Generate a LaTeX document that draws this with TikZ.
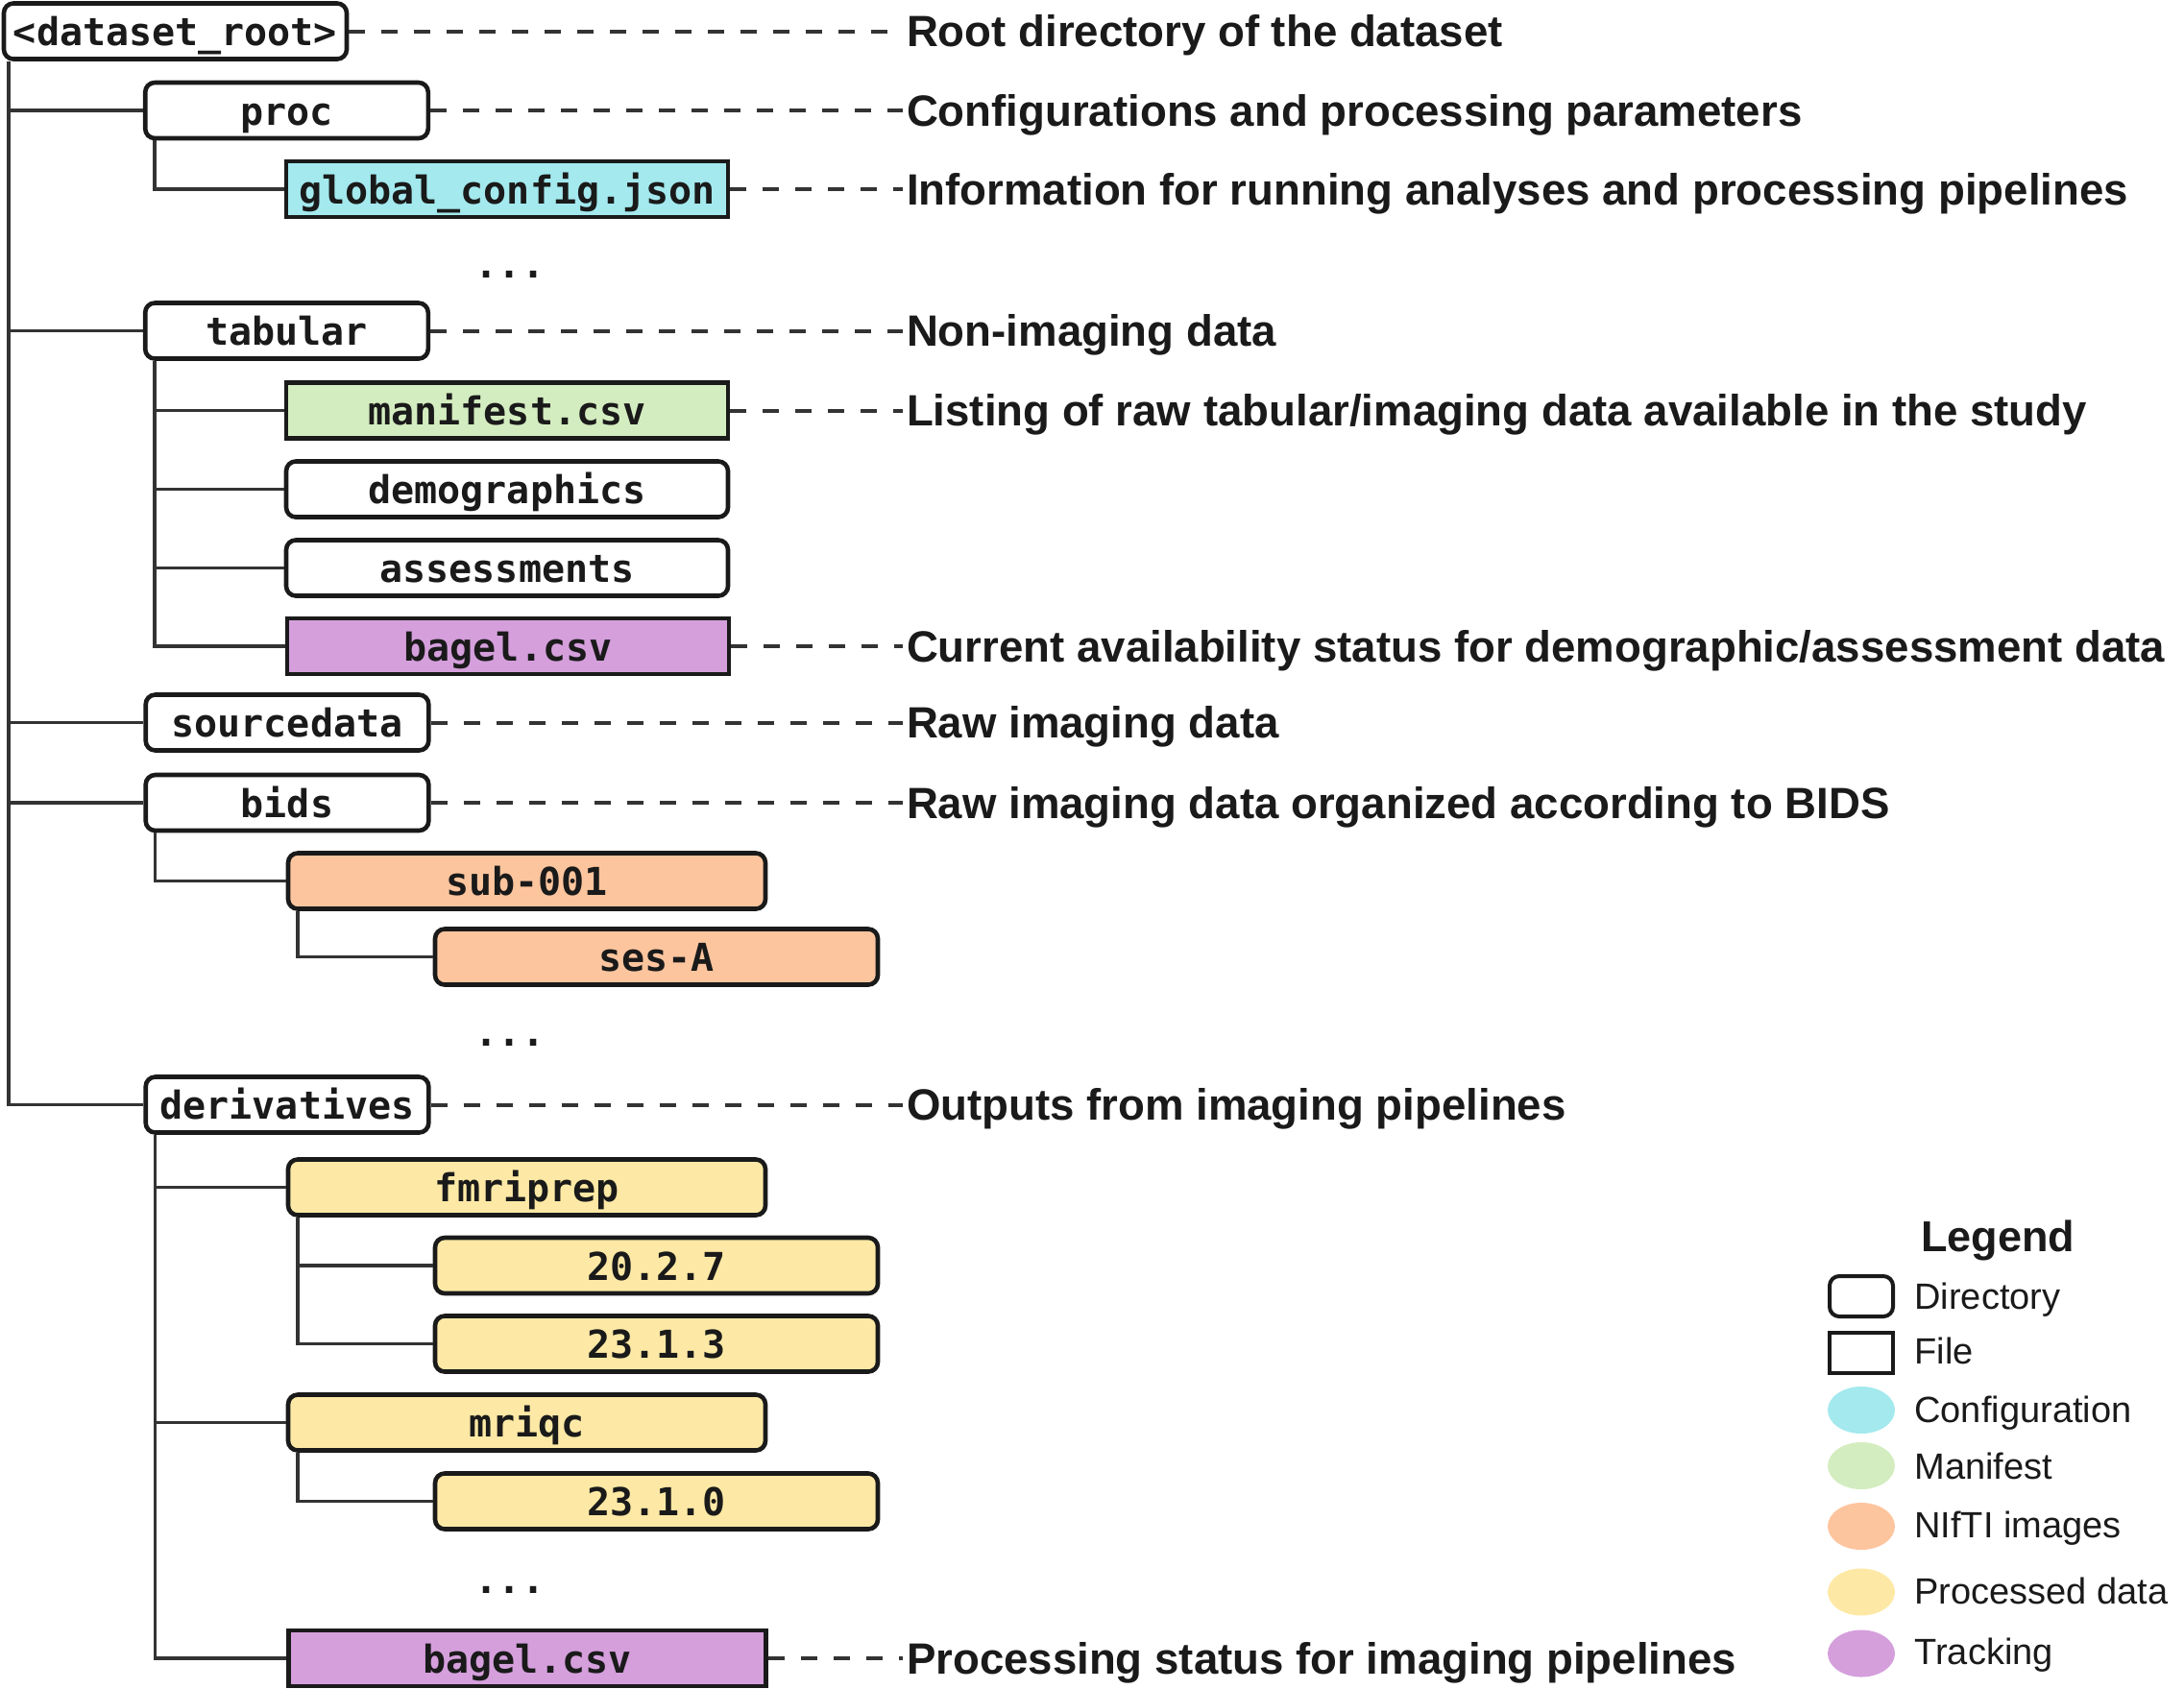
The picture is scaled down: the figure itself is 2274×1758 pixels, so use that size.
\documentclass[tikz,border=0pt]{standalone}
\usepackage{fontspec}
\setmainfont{Liberation Sans}
\newfontfamily\treefont{DejaVu Sans Mono}
\usepackage{tikz}
\usetikzlibrary{shapes.geometric}

\definecolor{cfgcyan}{HTML}{A3E9EE}
\definecolor{mangreen}{HTML}{D4EDC0}
\definecolor{niftiorange}{HTML}{FDC59E}
\definecolor{procyellow}{HTML}{FDE9A5}
\definecolor{trackpurple}{HTML}{D59FDC}
\definecolor{linegray}{HTML}{333333}
\definecolor{inkblack}{HTML}{1A1A1A}

\tikzset{
  entry/.style={draw=inkblack, line width=2.3pt, minimum height=29pt, inner sep=0pt,
    font=\treefont\bfseries\fontsize{20}{24}\selectfont, text=inkblack,
    text height=16pt, text depth=1pt},
  dirbox/.style={entry, rounded corners=5pt},
  filebox/.style={entry},
  rootw/.style={minimum width=178.5pt},
  lvlone/.style={minimum width=147.3pt},
  filew/.style={minimum width=230pt},
  subw/.style={minimum width=248.5pt},
  verw/.style={minimum width=230.5pt},
  moredots/.style={anchor=base, inner sep=0pt, font=\treefont\bfseries\fontsize{20}{24}\selectfont, text=inkblack},
  treeline/.style={draw=linegray, line width=1.9pt},
  leadline/.style={draw=linegray, line width=2pt, dash pattern=on 8.5pt off 8.5pt},
  desctext/.style={anchor=west, inner sep=1pt, font=\bfseries\fontsize{22.8}{27}\selectfont,
    text=inkblack, text height=16.4pt, text depth=0pt},
  keytext/.style={anchor=west, inner sep=0pt, font=\fontsize{19}{23}\selectfont,
    text=inkblack, text height=13.6pt, text depth=0pt},
  swatch/.style={ellipse, minimum width=35pt, minimum height=24.5pt, inner sep=0pt},
}

\begin{document}
\begin{tikzpicture}[x=0.5pt, y=-0.5pt]
    \useasboundingbox (0,0) rectangle (2274,1758);

    % directory tree
    \node[dirbox, rootw] (root) at (182.5,32.5) {<dataset\_root>};

    \node[dirbox, lvlone] (proc) at (298.5,115) {proc};
    \node[filebox, filew, fill=cfgcyan] (gcfg) at (528,197) {global\_config.json};
    \node[moredots] (more1) at (531,289) {...};

    \node[dirbox, lvlone] (tab) at (298.5,344.5) {tabular};
    \node[filebox, filew, fill=mangreen] (mani) at (528,427.5) {manifest.csv};
    \node[dirbox, filew] (demo) at (528,509.5) {demographics};
    \node[dirbox, filew] (asse) at (528,591.5) {assessments};
    \node[filebox, filew, fill=trackpurple] (bag1) at (529,673) {bagel.csv};

    \node[dirbox, lvlone] (src) at (299,752.5) {sourcedata};

    \node[dirbox, lvlone] (bids) at (299,836) {bids};
    \node[dirbox, subw, fill=niftiorange] (sub) at (548.5,917.5) {sub-001};
    \node[dirbox, verw, fill=niftiorange] (ses) at (683.5,996.5) {ses-A};
    \node[moredots] (more2) at (531,1089) {...};

    \node[dirbox, lvlone] (deriv) at (299,1150.5) {derivatives};
    \node[dirbox, subw, fill=procyellow] (fmri) at (548.5,1236.5) {fmriprep};
    \node[dirbox, verw, fill=procyellow] (fa) at (683.5,1318) {20.2.7};
    \node[dirbox, verw, fill=procyellow] (fb) at (683.5,1399.5) {23.1.3};
    \node[dirbox, subw, fill=procyellow] (mriqc) at (548.5,1481.5) {mriqc};
    \node[dirbox, verw, fill=procyellow] (ma) at (683.5,1563.5) {23.1.0};
    \node[moredots] (more3) at (531,1659) {...};
    \node[filebox, subw, fill=trackpurple] (bag2) at (549,1727) {bagel.csv};

    % branches
    \foreach \c in {proc,tab,src,bids,deriv}
        \draw[treeline] (root.south west) ++(7,0) |- (\c.west);
    \draw[treeline] (proc.south west) ++(12,0) |- (gcfg.west);
    \foreach \c in {mani,demo,asse,bag1}
        \draw[treeline] (tab.south west) ++(12,0) |- (\c.west);
    \draw[treeline] (bids.south west) ++(12,0) |- (sub.west);
    \draw[treeline] (sub.south west) ++(12,0) |- (ses.west);
    \foreach \c in {fmri,mriqc,bag2}
        \draw[treeline] (deriv.south west) ++(12,0) |- (\c.west);
    \foreach \c in {fa,fb}
        \draw[treeline] (fmri.south west) ++(12,0) |- (\c.west);
    \draw[treeline] (mriqc.south west) ++(12,0) |- (ma.west);

    % descriptions
    \coordinate (lbl) at (940,0);
    \foreach \n/\t in {root/{Root directory of the dataset},
                       proc/{Configurations and processing parameters},
                       gcfg/{Information for running analyses and processing pipelines},
                       tab/{Non-imaging data},
                       mani/{Listing of raw tabular/imaging data available in the study},
                       bag1/{Current availability status for demographic/assessment data},
                       src/{Raw imaging data},
                       bids/{Raw imaging data organized according to BIDS},
                       deriv/{Outputs from imaging pipelines},
                       bag2/{Processing status for imaging pipelines}}
        \draw[leadline] (\n.east) -- (\n.east -| lbl) node[desctext] (\n-d) {\t};

    % legend
    \node[inner sep=0pt, font=\bfseries\fontsize{22.5}{27}\selectfont, text=inkblack] (leg) at (2080,1292) {Legend};
    \node[dirbox, minimum width=33pt, minimum height=21pt, line width=2pt] (k-dir) at (1938,1350) {};
    \node[filebox, minimum width=33pt, minimum height=21pt, line width=2pt] (k-file) at (1938,1409) {};
    \node[swatch, fill=cfgcyan] (k-cfg) at (1938,1468.5) {};
    \node[swatch, fill=mangreen] (k-man) at (1938,1526.5) {};
    \node[swatch, fill=niftiorange] (k-nii) at (1938,1589.5) {};
    \node[swatch, fill=procyellow] (k-proc) at (1938,1658) {};
    \node[swatch, fill=trackpurple] (k-track) at (1938,1722) {};

    \node[keytext] (t-dir) at (1993,1350) {Directory};
    \node[keytext] (t-file) at (1993,1407) {File};
    \node[keytext] (t-cfg) at (1993,1468) {Configuration};
    \node[keytext] (t-man) at (1993,1527) {Manifest};
    \node[keytext] (t-nii) at (1993,1588) {NIfTI images};
    \node[keytext] (t-proc) at (1993,1657) {Processed data};
    \node[keytext] (t-track) at (1993,1720) {Tracking};
\end{tikzpicture}
\end{document}
